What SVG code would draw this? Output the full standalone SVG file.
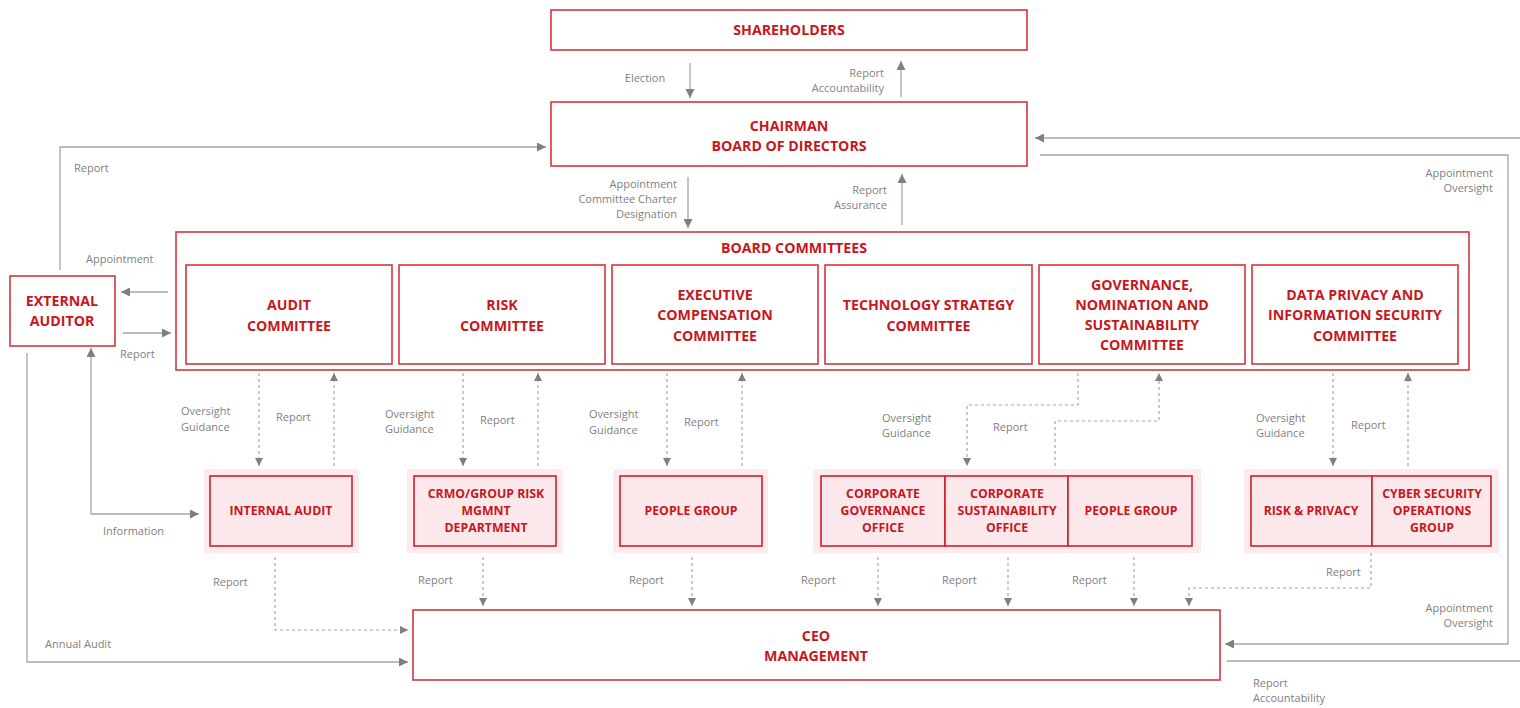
<svg xmlns="http://www.w3.org/2000/svg" width="1520" height="708" viewBox="0 0 1520 708">
<style>
.box{fill:#fff;stroke:#d8343c;stroke-width:1.6}
.pbg{fill:#fdeaec;stroke:none}
.pbox{fill:#fce8ea;stroke:#d21f2a;stroke-width:1.6}
.t{font-family:"Open Sans","Liberation Sans",sans-serif;font-weight:700;fill:#c8161d;text-anchor:middle;font-size:14.2px}
.ts{font-family:"Open Sans","Liberation Sans",sans-serif;font-weight:700;fill:#c8161d;text-anchor:middle;font-size:12.3px}
.l{font-family:"Open Sans","Liberation Sans",sans-serif;fill:#7f7f7f;font-size:11px}
.r{text-anchor:end}
.c{text-anchor:middle}
.ln{fill:none;stroke:#a6a6a6;stroke-width:1.3}
.dl{fill:none;stroke:#a6a6a6;stroke-width:1.2;stroke-dasharray:3 3}
</style>
<defs>
<marker id="ah" viewBox="0 0 10 10" refX="10" refY="5" markerWidth="9" markerHeight="9" markerUnits="userSpaceOnUse" orient="auto-start-reverse"><path d="M0,0 L10,5 L0,10 z" fill="#7f7f7f"/></marker>
<marker id="ad" viewBox="0 0 10 10" refX="10" refY="5" markerWidth="8" markerHeight="8" markerUnits="userSpaceOnUse" orient="auto"><path d="M0,0 L10,5 L0,10 z" fill="#7f7f7f"/></marker>
</defs>

<g id="shareholders"><rect class="box" x="551" y="10" width="476" height="40"/><text class="t" x="789" y="35">SHAREHOLDERS</text></g>
<g id="chairman"><rect class="box" x="551" y="102" width="476" height="64"/><text class="t" x="789" y="131">CHAIRMAN</text><text class="t" x="789" y="151">BOARD OF DIRECTORS</text></g>
<g id="external-auditor"><rect class="box" x="10" y="276" width="105" height="70"/><text class="t" x="62" y="306">EXTERNAL</text><text class="t" x="62" y="326">AUDITOR</text></g>

<g id="board-committees">
<rect class="box" x="176" y="232" width="1293" height="138"/>
<text class="t" x="794" y="253">BOARD COMMITTEES</text>
</g>
<g id="audit-committee"><rect class="box" x="186" y="265" width="206" height="99"/><text class="t" x="289" y="310">AUDIT</text><text class="t" x="289" y="331">COMMITTEE</text></g>
<g id="risk-committee"><rect class="box" x="399" y="265" width="206" height="99"/><text class="t" x="502" y="310">RISK</text><text class="t" x="502" y="331">COMMITTEE</text></g>
<g id="exec-comp-committee"><rect class="box" x="612" y="265" width="206" height="99"/><text class="t" x="715" y="300">EXECUTIVE</text><text class="t" x="715" y="320">COMPENSATION</text><text class="t" x="715" y="341">COMMITTEE</text></g>
<g id="tech-committee"><rect class="box" x="825" y="265" width="207" height="99"/><text class="t" x="928.5" y="310">TECHNOLOGY STRATEGY</text><text class="t" x="928.5" y="331">COMMITTEE</text></g>
<g id="gov-committee"><rect class="box" x="1039" y="265" width="206" height="99"/><text class="t" x="1142" y="290">GOVERNANCE,</text><text class="t" x="1142" y="310">NOMINATION AND</text><text class="t" x="1142" y="330">SUSTAINABILITY</text><text class="t" x="1142" y="350">COMMITTEE</text></g>
<g id="data-committee"><rect class="box" x="1252" y="265" width="206" height="99"/><text class="t" x="1355" y="300">DATA PRIVACY AND</text><text class="t" x="1355" y="320">INFORMATION SECURITY</text><text class="t" x="1355" y="341">COMMITTEE</text></g>

<g id="internal-audit"><rect class="pbg" x="204" y="469" width="155" height="84"/><rect class="pbox" x="210" y="476" width="142" height="70"/><text class="ts" x="281" y="515">INTERNAL AUDIT</text></g>
<g id="crmo"><rect class="pbg" x="407" y="469" width="156" height="84"/><rect class="pbox" x="414" y="476" width="142" height="70"/><text class="ts" x="486" y="498">CRMO/GROUP RISK</text><text class="ts" x="486" y="515">MGMNT</text><text class="ts" x="486" y="532">DEPARTMENT</text></g>
<g id="people-group-1"><rect class="pbg" x="613" y="469" width="155" height="84"/><rect class="pbox" x="620" y="476" width="142" height="70"/><text class="ts" x="691" y="515">PEOPLE GROUP</text></g>
<g id="corporate-group">
<rect class="pbg" x="813" y="469" width="388" height="84"/>
<rect class="pbox" x="821" y="476" width="124" height="70"/><text class="ts" x="883" y="498">CORPORATE</text><text class="ts" x="883" y="515">GOVERNANCE</text><text class="ts" x="883" y="532">OFFICE</text>
<rect class="pbox" x="945" y="476" width="123" height="70"/><text class="ts" x="1007" y="498">CORPORATE</text><text class="ts" x="1007" y="515">SUSTAINABILITY</text><text class="ts" x="1007" y="532">OFFICE</text>
<rect class="pbox" x="1068" y="476" width="124" height="70"/><text class="ts" x="1131" y="515">PEOPLE GROUP</text>
</g>
<g id="risk-cyber-group">
<rect class="pbg" x="1244" y="469" width="255" height="84"/>
<rect class="pbox" x="1251" y="476" width="121" height="70"/><text class="ts" x="1311" y="515">RISK &amp; PRIVACY</text>
<rect class="pbox" x="1372" y="476" width="119" height="70"/><text class="ts" x="1432" y="498">CYBER SECURITY</text><text class="ts" x="1432" y="515">OPERATIONS</text><text class="ts" x="1432" y="532">GROUP</text>
</g>
<g id="ceo"><rect class="box" x="413" y="610" width="807" height="70"/><text class="t" x="816" y="641">CEO</text><text class="t" x="816" y="661">MANAGEMENT</text></g>

<g id="connectors">
<line class="ln" x1="690" y1="63" x2="690" y2="98" marker-end="url(#ah)"/>
<line class="ln" x1="901" y1="97" x2="901" y2="61" marker-end="url(#ah)"/>
<line class="ln" x1="688" y1="177" x2="688" y2="228" marker-end="url(#ah)"/>
<line class="ln" x1="902" y1="225" x2="902" y2="174" marker-end="url(#ah)"/>
<polyline class="ln" points="60,270 60,147 546,147" marker-end="url(#ah)"/>
<line class="ln" x1="168" y1="292" x2="121" y2="292" marker-end="url(#ah)"/>
<line class="ln" x1="123" y1="333" x2="171" y2="333" marker-end="url(#ah)"/>
<polyline class="ln" points="27,353 27,662 408,662" marker-end="url(#ah)"/>
<polyline class="ln" points="199,514 91,514 91,348" marker-start="url(#ah)" marker-end="url(#ah)"/>
<line class="ln" x1="1520" y1="138" x2="1035" y2="138" marker-end="url(#ah)"/>
<polyline class="ln" points="1040,155 1508,155 1508,644 1225,644" marker-end="url(#ah)"/>
<line class="ln" x1="1227" y1="661" x2="1520" y2="661"/>

<line class="dl" x1="259" y1="373" x2="259" y2="466" marker-end="url(#ad)"/>
<line class="dl" x1="334" y1="466" x2="334" y2="373" marker-end="url(#ad)"/>
<line class="dl" x1="463" y1="373" x2="463" y2="466" marker-end="url(#ad)"/>
<line class="dl" x1="538" y1="466" x2="538" y2="373" marker-end="url(#ad)"/>
<line class="dl" x1="667" y1="373" x2="667" y2="466" marker-end="url(#ad)"/>
<line class="dl" x1="742" y1="466" x2="742" y2="373" marker-end="url(#ad)"/>
<polyline class="dl" points="1078,373 1078,405 967,405 967,466" marker-end="url(#ad)"/>
<polyline class="dl" points="1055,466 1055,421 1159,421 1159,373" marker-end="url(#ad)"/>
<line class="dl" x1="1333" y1="373" x2="1333" y2="466" marker-end="url(#ad)"/>
<line class="dl" x1="1408" y1="466" x2="1408" y2="373" marker-end="url(#ad)"/>

<polyline class="dl" points="275,557 275,630 408,630" marker-end="url(#ad)"/>
<line class="dl" x1="483" y1="557" x2="483" y2="606" marker-end="url(#ad)"/>
<line class="dl" x1="692" y1="557" x2="692" y2="606" marker-end="url(#ad)"/>
<line class="dl" x1="878" y1="557" x2="878" y2="606" marker-end="url(#ad)"/>
<line class="dl" x1="1008" y1="557" x2="1008" y2="606" marker-end="url(#ad)"/>
<line class="dl" x1="1134" y1="557" x2="1134" y2="606" marker-end="url(#ad)"/>
<polyline class="dl" points="1371,553 1371,588 1189,588 1189,606" marker-end="url(#ad)"/>
</g>

<g id="labels">
<text class="l c" x="645" y="82">Election</text>
<text class="l r" x="884" y="77">Report</text>
<text class="l r" x="884" y="92">Accountability</text>
<text class="l r" x="677" y="188">Appointment</text>
<text class="l r" x="677" y="203">Committee Charter</text>
<text class="l r" x="677" y="218">Designation</text>
<text class="l r" x="887" y="194">Report</text>
<text class="l r" x="887" y="209">Assurance</text>
<text class="l" x="74" y="172">Report</text>
<text class="l" x="86" y="263">Appointment</text>
<text class="l" x="120" y="358">Report</text>
<text class="l" x="103" y="535">Information</text>
<text class="l" x="213" y="586">Report</text>
<text class="l" x="45" y="648">Annual Audit</text>
<text class="l r" x="1493" y="177">Appointment</text>
<text class="l r" x="1493" y="192">Oversight</text>
<text class="l r" x="1493" y="612">Appointment</text>
<text class="l r" x="1493" y="627">Oversight</text>
<text class="l" x="1253" y="687">Report</text>
<text class="l" x="1253" y="702">Accountability</text>
<text class="l" x="181" y="415">Oversight</text>
<text class="l" x="181" y="431">Guidance</text>
<text class="l" x="276" y="421">Report</text>
<text class="l" x="385" y="418">Oversight</text>
<text class="l" x="385" y="433">Guidance</text>
<text class="l" x="480" y="424">Report</text>
<text class="l" x="589" y="418">Oversight</text>
<text class="l" x="589" y="434">Guidance</text>
<text class="l" x="684" y="426">Report</text>
<text class="l" x="882" y="422">Oversight</text>
<text class="l" x="882" y="437">Guidance</text>
<text class="l" x="993" y="431">Report</text>
<text class="l" x="1256" y="422">Oversight</text>
<text class="l" x="1256" y="437">Guidance</text>
<text class="l" x="1351" y="429">Report</text>
<text class="l" x="1326" y="576">Report</text>
<text class="l" x="418" y="584">Report</text>
<text class="l" x="629" y="584">Report</text>
<text class="l" x="801" y="584">Report</text>
<text class="l" x="942" y="584">Report</text>
<text class="l" x="1072" y="584">Report</text>
</g>
</svg>
